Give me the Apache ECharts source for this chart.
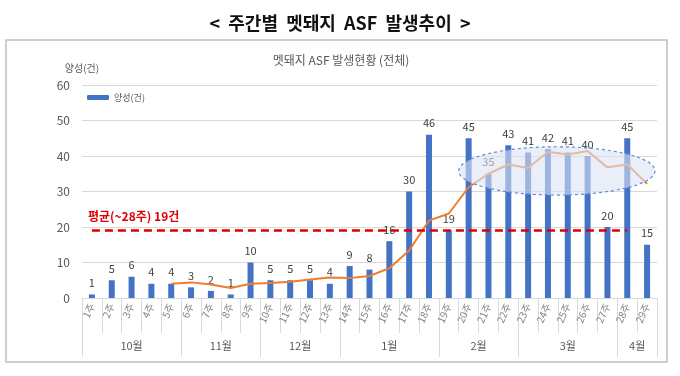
<!DOCTYPE html>
<html>
<head>
<meta charset="utf-8">
<script src="https://cdn.jsdelivr.net/npm/echarts@6/dist/echarts.min.js"></script>
<style>
  html, body { margin: 0; padding: 0; background: #fff; }
  #chart { width: 680px; height: 376px; }
</style>
</head>
<body>
<div id="chart"></div>
<script>
const weeks = ["1주", "2주", "3주", "4주", "5주", "6주", "7주", "8주", "9주", "10주",
  "11주", "12주", "13주", "14주", "15주", "16주", "17주", "18주", "19주", "20주",
  "21주", "22주", "23주", "24주", "25주", "26주", "27주", "28주", "29주"];
const positives = [1, 5, 6, 4, 4, 3, 2, 1, 10, 5, 5, 5, 4, 9, 8, 16, 30, 46, 19, 45,
  35, 43, 41, 42, 41, 40, 20, 45, 15];
// orange trend line
const trend = [null, null, null, null, 4.0, 4.4, 3.8, 2.8, 4.0, 4.2, 4.6, 5.2, 5.8, 5.6,
  6.2, 8.4, 13.4, 21.8, 23.8, 31.2, 35.0, 37.6, 36.6, 41.2, 40.4, 41.4, 36.8, 37.6, 32.2];
const months = ["10월", "11월", "12월", "1월", "2월", "3월", "4월"];
const monthWeeks = [5, 4, 4, 5, 4, 5, 2];
const average = 19;
const averageLabel = "평균(~28주) 19건";
const yTicks = [0, 10, 20, 30, 40, 50, 60];

// month boundaries / centers on a 0..29 scale
const bounds = [0];
monthWeeks.forEach((n) => bounds.push(bounds[bounds.length - 1] + n));
const centers = months.map((m, i) => (bounds[i] + bounds[i + 1]) / 2);

const font = "'Noto Sans CJK KR', 'Noto Sans', sans-serif";
const chart = echarts.init(document.getElementById("chart"));

const frame = {
  type: "rect",
  shape: { x: 6, y: 40, width: 661, height: 322 },
  style: { fill: "none", stroke: "#bfbfbf", lineWidth: 1.5 },
  z: -1,
};

chart.setOption({
  animation: false,
  textStyle: { fontFamily: font },
  title: [
    {
      text: "<  주간별  멧돼지  ASF  발생추이  >",
      left: "center",
      top: 9,
      textStyle: { fontSize: 18, fontWeight: "bold", color: "#111", fontFamily: font },
    },
    {
      text: "멧돼지 ASF 발생현황 (전체)",
      left: 336,
      textAlign: "center",
      top: 49,
      textStyle: { fontSize: 12, fontWeight: "normal", color: "#595959", fontFamily: font },
    },
  ],
  graphic: [frame],
  legend: {
    data: ["양성(건)"],
    left: 82,
    top: 88,
    itemWidth: 22,
    itemHeight: 5,
    itemGap: 4,
    textStyle: { fontSize: 9, color: "#595959", fontFamily: font },
  },
  grid: { left: 82, right: 23, top: 85, bottom: 78 },
  xAxis: [
    {
      type: "category",
      data: weeks,
      position: "bottom",
      axisLine: { lineStyle: { color: "#d9d9d9" } },
      axisTick: { show: true, interval: 0, length: 35, lineStyle: { color: "#d9d9d9" } },
      axisLabel: {
        interval: 0,
        rotate: 65,
        margin: 6,
        fontSize: 10,
        color: "#7f7f7f",
        fontFamily: font,
      },
    },
    {
      type: "value",
      min: 0,
      max: weeks.length,
      position: "bottom",
      axisLine: { show: false },
      splitLine: { show: false },
      axisTick: {
        show: true,
        customValues: bounds,
        length: 59,
        lineStyle: { color: "#d9d9d9" },
      },
      axisLabel: {
        customValues: centers,
        margin: 42,
        fontSize: 11,
        color: "#595959",
        fontFamily: font,
        formatter: (v) => months[centers.indexOf(v)] || "",
      },
    },
  ],
  yAxis: {
    type: "value",
    min: yTicks[0],
    max: yTicks[yTicks.length - 1],
    interval: 10,
    name: "양성(건)",
    nameLocation: "end",
    nameGap: 12,
    nameTextStyle: { fontSize: 10, color: "#595959", align: "center", fontFamily: font },
    axisLine: { show: false },
    axisTick: { show: false },
    axisLabel: { fontSize: 12, color: "#595959", margin: 12, fontFamily: font },
    splitLine: { lineStyle: { color: "#d9d9d9" } },
  },
  series: [
    {
      name: "양성(건)",
      type: "bar",
      data: positives,
      barWidth: 6,
      itemStyle: { color: "#4472c4" },
      label: {
        show: true,
        position: "top",
        distance: 6,
        fontSize: 11,
        color: "#404040",
        fontFamily: font,
      },
      markLine: {
        silent: true,
        symbol: "none",
        lineStyle: { color: "#e00000", type: [8, 5], width: 2.5 },
        label: {
          show: true,
          position: "insideStartTop",
          formatter: averageLabel,
          color: "#e00000",
          fontWeight: "bold",
          fontSize: 12,
          distance: [-4, 8],
          fontFamily: font,
        },
        data: [[{ xAxis: weeks[0], yAxis: average }, { xAxis: weeks[27], yAxis: average }]],
      },
      z: 2,
    },
    {
      name: "추세",
      type: "line",
      data: trend,
      showSymbol: false,
      symbol: "none",
      lineStyle: { color: "#ed7d31", width: 2 },
      itemStyle: { color: "#ed7d31" },
      z: 3,
    },
  ],
});

// dashed highlight ellipse over the late plateau
const p0 = chart.convertToPixel({ xAxisIndex: 0 }, weeks[23]);
const p1 = chart.convertToPixel({ xAxisIndex: 0 }, weeks[24]);
const step = p1 - p0;
const cx = p0 + 0.45 * step;
const cy = chart.convertToPixel({ yAxisIndex: 0 }, 35.8);
const ry = chart.convertToPixel({ yAxisIndex: 0 }, 29) - cy;
chart.setOption({
  graphic: [
    frame,
    {
      type: "ellipse",
      shape: { cx: cx, cy: cy, rx: step * 4.95, ry: ry },
      style: { fill: "rgba(218,227,243,0.6)", stroke: "#5b8bd9", lineWidth: 1.2, lineDash: [3, 3] },
      z: 100,
    },
  ],
});
</script>
</body>
</html>
